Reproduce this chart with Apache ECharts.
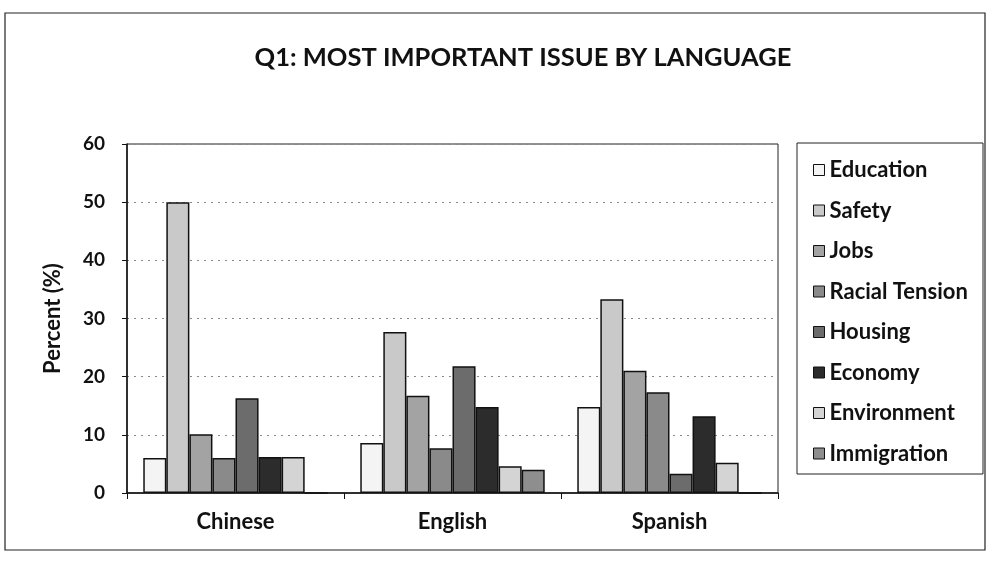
<!DOCTYPE html>
<html>
<head>
<meta charset="utf-8">
<script src="https://cdn.jsdelivr.net/npm/echarts@6/dist/echarts.min.js"></script>
<style>
  html, body { margin: 0; padding: 0; background: #fff; }
  #chart { width: 990px; height: 578px; }
</style>
</head>
<body>
<div id="chart"></div>
<script>
// Survey responses: most important issue, split by interview language (percent)
const languages = ['Chinese', 'English', 'Spanish'];
const issues = ['Education', 'Safety', 'Jobs', 'Racial Tension', 'Housing', 'Economy', 'Environment', 'Immigration'];

const education     = [6, 8.6, 14.8];
const safety        = [50, 27.7, 33.3];
const jobs          = [10.1, 16.7, 21];
const racialTension = [6, 7.7, 17.3];
const housing       = [16.3, 21.8, 3.3];
const economy       = [6.2, 14.8, 13.2];
const environment   = [6.2, 4.6, 5.2];
const immigration   = [0, 4.0, 0];

const yTicks = [0, 10, 20, 30, 40, 50, 60];

const seriesValues = [education, safety, jobs, racialTension, housing, economy, environment, immigration];
const fills = ['#f4f4f4', '#c9c9c9', '#a3a3a3', '#8a8a8a', '#6c6c6c', '#2c2c2c', '#d4d4d4', '#8e8e8e'];

const FONT = 'Lato';

const chart = echarts.init(document.getElementById('chart'), null, { renderer: 'canvas' });

chart.setOption({
  animation: false,
  backgroundColor: '#fff',
  title: {
    text: 'Q1: MOST IMPORTANT ISSUE BY LANGUAGE',
    left: 518,
    textAlign: 'center',
    top: 40,
    textStyle: { fontFamily: FONT, fontSize: 25.5, fontWeight: 'bold', color: '#111' }
  },
  legend: {
    orient: 'vertical',
    left: 808,
    top: 154,
    itemWidth: 11,
    itemHeight: 11,
    itemGap: 18.5,
    icon: 'rect',
    itemStyle: { borderColor: '#111', borderWidth: 1 },
    textStyle: { fontFamily: FONT, fontSize: 22, fontWeight: 'bold', color: '#111', lineHeight: 22 },
    data: issues
  },
  grid: {
    left: 127, right: 212, top: 144, bottom: 85,
    show: true, borderColor: '#222', borderWidth: 1, backgroundColor: 'transparent'
  },
  xAxis: {
    type: 'category',
    data: languages,
    axisLine: { lineStyle: { color: '#111', width: 1.5 } },
    axisTick: { show: true, length: 6, lineStyle: { color: '#111' } },
    axisLabel: { fontFamily: FONT, fontSize: 22, fontWeight: 'bold', color: '#111', margin: 18 }
  },
  yAxis: {
    type: 'value',
    min: yTicks[0],
    max: yTicks[yTicks.length - 1],
    interval: 10,
    name: 'Percent (%)',
    nameLocation: 'middle',
    nameGap: 63,
    nameTextStyle: { fontFamily: FONT, fontSize: 22, fontWeight: 'bold', color: '#111' },
    axisLine: { show: true, lineStyle: { color: '#111', width: 1.5 } },
    axisTick: { show: true, length: 5, lineStyle: { color: '#111' } },
    axisLabel: { fontFamily: FONT, fontSize: 19, fontWeight: 'bold', color: '#111', margin: 22 },
    splitLine: { show: true, lineStyle: { color: '#888', type: [2, 5], width: 1 } }
  },
  series: issues.map((name, i) => ({
    name,
    type: 'bar',
    data: seriesValues[i],
    barGap: '0%',
    barCategoryGap: '15%',
    itemStyle: { color: fills[i], borderColor: '#111', borderWidth: 1.5 }
  })),
  graphic: [
    {
      type: 'rect',
      shape: { x: 5, y: 13, width: 980, height: 537 },
      style: { fill: 'none', stroke: '#222', lineWidth: 1.2 },
      silent: true, z: -1
    },
    {
      type: 'rect',
      shape: { x: 797, y: 143, width: 186, height: 331 },
      style: { fill: 'none', stroke: '#222', lineWidth: 1 },
      silent: true
    }
  ]
});
</script>
</body>
</html>
